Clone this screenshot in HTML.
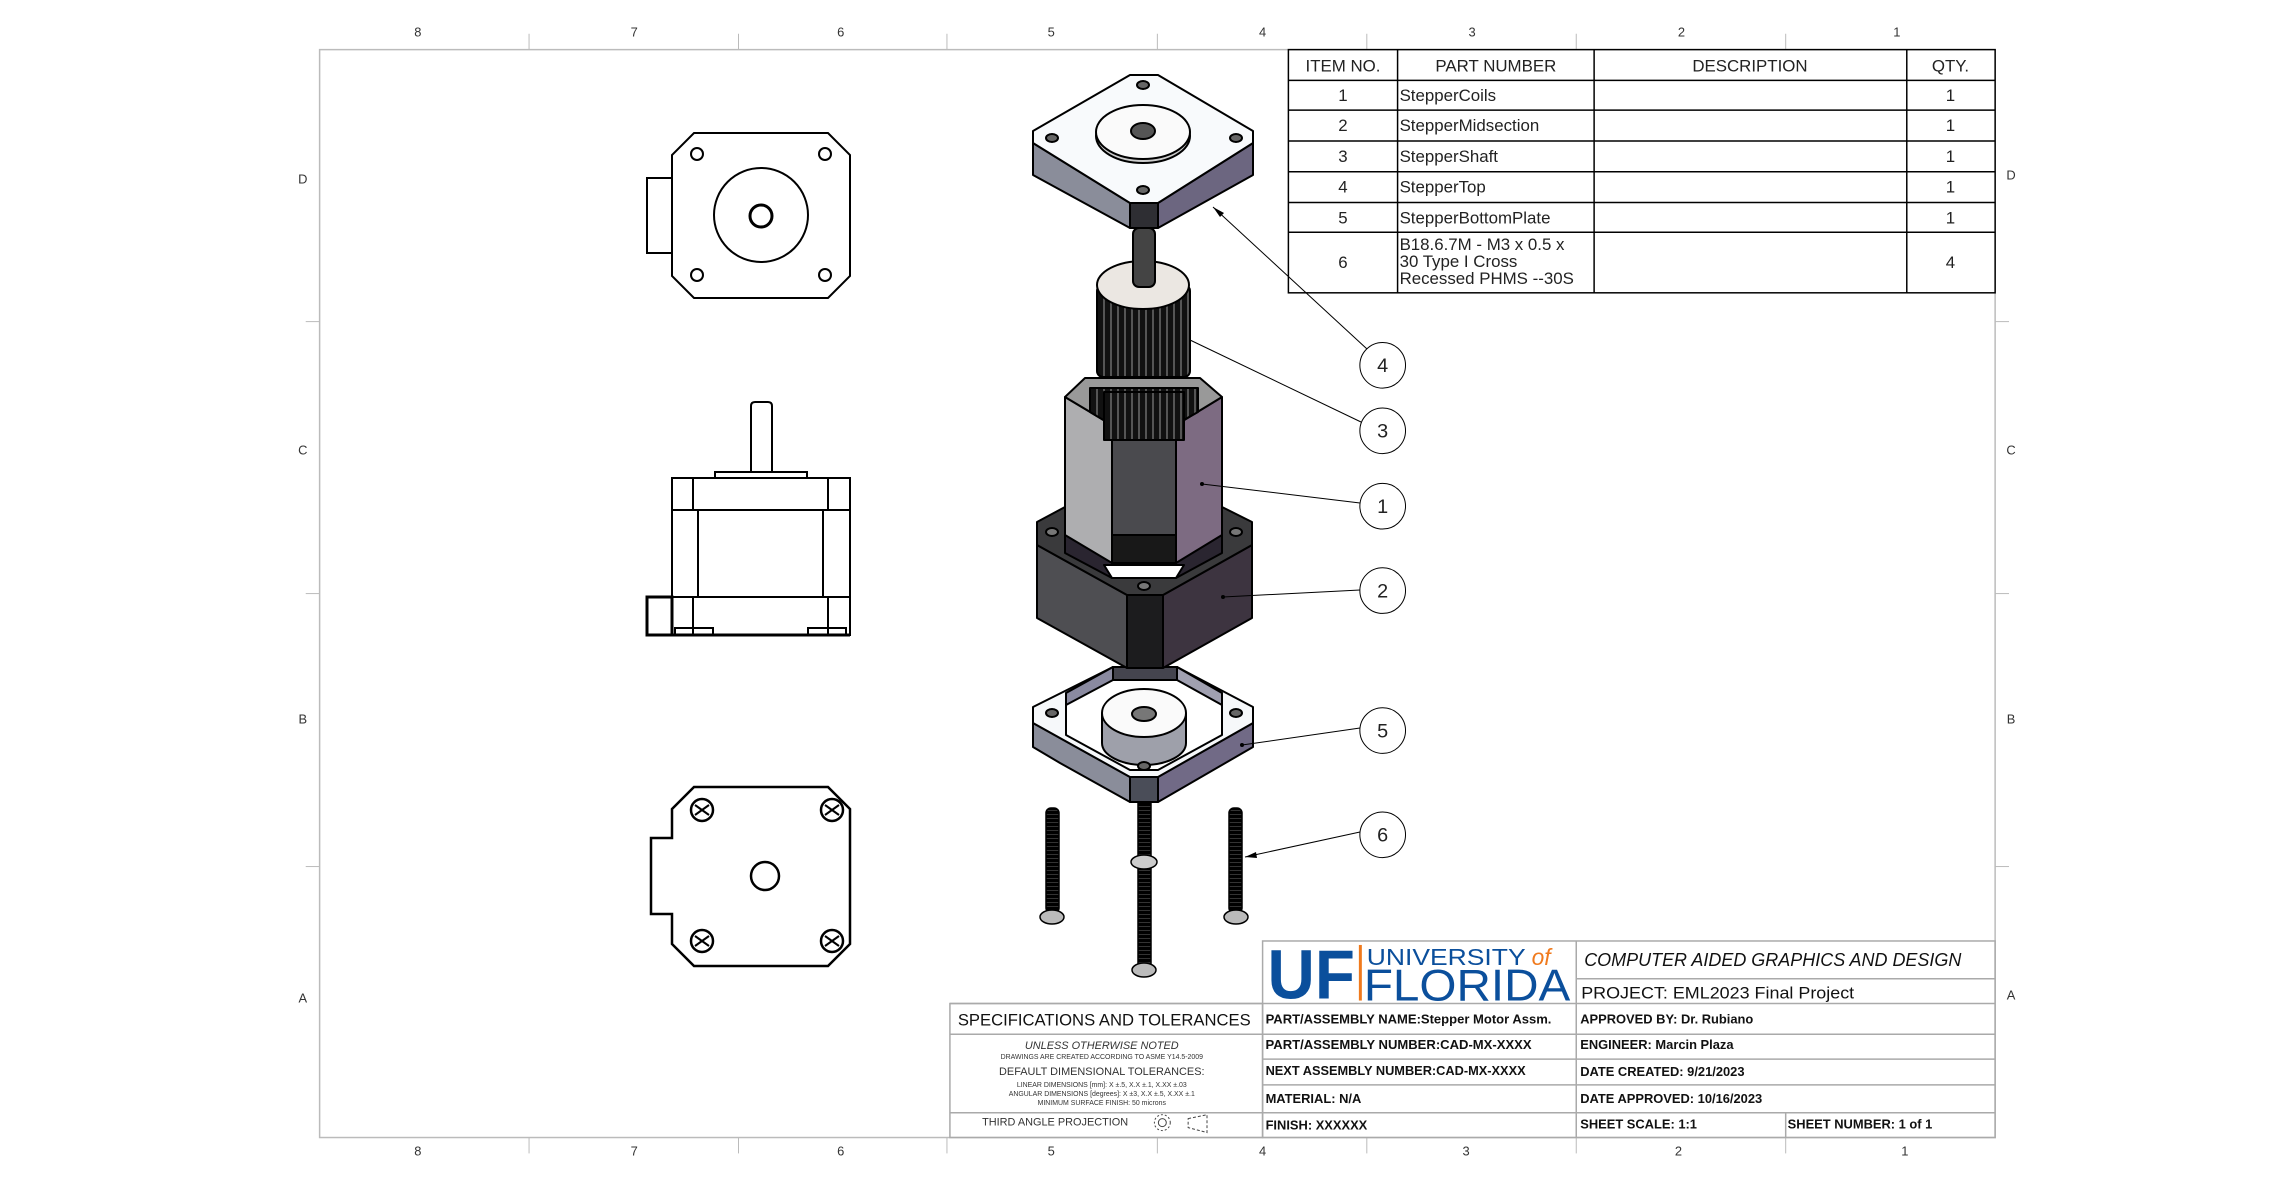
<!DOCTYPE html>
<html><head><meta charset="utf-8"><style>
html,body{margin:0;padding:0;background:#fff}
svg{display:block}
text{font-family:"Liberation Sans",sans-serif}
</style></head><body>
<svg width="2280" height="1193" viewBox="0 0 2280 1193" xmlns="http://www.w3.org/2000/svg">
<defs>
<pattern id="teeth" width="7" height="10" patternUnits="userSpaceOnUse">
<rect width="7" height="10" fill="#111"/><rect x="4" width="2" height="10" fill="#555"/>
</pattern>
<pattern id="thread" width="6" height="4" patternUnits="userSpaceOnUse">
<rect width="6" height="4" fill="#000"/><rect y="2" width="6" height="1" fill="#333"/>
</pattern>
</defs>
<rect width="2280" height="1193" fill="#fff"/>
<g transform="scale(0.9926)">
<!-- frame -->
<rect x="322" y="50" width="1688" height="1096" fill="none" stroke="#bbb" stroke-width="1.5"/>
<g stroke="#bbb" stroke-width="1">
<line x1="533" y1="34" x2="533" y2="50"/><line x1="744" y1="34" x2="744" y2="50"/><line x1="954" y1="34" x2="954" y2="50"/><line x1="1166" y1="34" x2="1166" y2="50"/><line x1="1377" y1="34" x2="1377" y2="50"/><line x1="1588" y1="34" x2="1588" y2="50"/><line x1="1799" y1="34" x2="1799" y2="50"/>
<line x1="533" y1="1146" x2="533" y2="1162"/><line x1="744" y1="1146" x2="744" y2="1162"/><line x1="954" y1="1146" x2="954" y2="1162"/><line x1="1166" y1="1146" x2="1166" y2="1162"/><line x1="1377" y1="1146" x2="1377" y2="1162"/><line x1="1588" y1="1146" x2="1588" y2="1162"/><line x1="1799" y1="1146" x2="1799" y2="1162"/>
<line x1="308" y1="324" x2="322" y2="324"/><line x1="308" y1="598" x2="322" y2="598"/><line x1="308" y1="873" x2="322" y2="873"/>
<line x1="2010" y1="324" x2="2024" y2="324"/><line x1="2010" y1="598" x2="2024" y2="598"/><line x1="2010" y1="873" x2="2024" y2="873"/>
</g>
<g font-size="13" fill="#333" text-anchor="middle">
<text x="421" y="37">8</text><text x="639" y="37">7</text><text x="847" y="37">6</text><text x="1059" y="37">5</text><text x="1272" y="37">4</text><text x="1483" y="37">3</text><text x="1694" y="37">2</text><text x="1911" y="37">1</text>
<text x="421" y="1164">8</text><text x="639" y="1164">7</text><text x="847" y="1164">6</text><text x="1059" y="1164">5</text><text x="1272" y="1164">4</text><text x="1477" y="1164">3</text><text x="1691" y="1164">2</text><text x="1919" y="1164">1</text>
<text x="305" y="185">D</text><text x="305" y="458">C</text><text x="305" y="729">B</text><text x="305" y="1010">A</text>
<text x="2026" y="181">D</text><text x="2026" y="458">C</text><text x="2026" y="729">B</text><text x="2026" y="1007">A</text>
</g>
<!-- BOM -->
<g stroke="#000" stroke-width="1.5" fill="none">
<rect x="1298" y="50" width="712" height="245" fill="#fff"/>
<line x1="1408" y1="50" x2="1408" y2="295"/><line x1="1606" y1="50" x2="1606" y2="295"/><line x1="1921" y1="50" x2="1921" y2="295"/>
<line x1="1298" y1="81" x2="2010" y2="81"/><line x1="1298" y1="111" x2="2010" y2="111"/><line x1="1298" y1="142" x2="2010" y2="142"/><line x1="1298" y1="173" x2="2010" y2="173"/><line x1="1298" y1="204" x2="2010" y2="204"/><line x1="1298" y1="234" x2="2010" y2="234"/>
</g>
<g font-size="17" fill="#222">
<g text-anchor="middle"><text x="1353" y="72">ITEM NO.</text><text x="1507" y="72">PART NUMBER</text><text x="1763" y="72">DESCRIPTION</text><text x="1965" y="72">QTY.</text>
<text x="1353" y="102">1</text><text x="1353" y="132">2</text><text x="1353" y="163">3</text><text x="1353" y="194">4</text><text x="1353" y="225">5</text><text x="1353" y="270">6</text>
<text x="1965" y="102">1</text><text x="1965" y="132">1</text><text x="1965" y="163">1</text><text x="1965" y="194">1</text><text x="1965" y="225">1</text><text x="1965" y="270">4</text></g>
<text x="1410" y="102">StepperCoils</text><text x="1410" y="132">StepperMidsection</text><text x="1410" y="163">StepperShaft</text><text x="1410" y="194">StepperTop</text><text x="1410" y="225">StepperBottomPlate</text>
<text x="1410" y="252">B18.6.7M - M3 x 0.5 x</text><text x="1410" y="269">30 Type I Cross</text><text x="1410" y="286">Recessed PHMS --30S</text>
</g>
<!-- title block -->
<g stroke="#aaa" stroke-width="1.5" fill="none">
<rect x="1272" y="948" width="738" height="198"/>
<rect x="957" y="1011" width="315" height="135"/>
<line x1="1588" y1="948" x2="1588" y2="1146"/>
<line x1="1588" y1="986" x2="2010" y2="986"/>
<line x1="957" y1="1011" x2="2010" y2="1011"/>
<line x1="957" y1="1042" x2="2010" y2="1042"/>
<line x1="1272" y1="1067" x2="2010" y2="1067"/>
<line x1="1272" y1="1093" x2="2010" y2="1093"/>
<line x1="957" y1="1121" x2="2010" y2="1121"/>
<line x1="1799" y1="1121" x2="1799" y2="1146"/>
</g>
<text x="1277" y="1006" font-family="Liberation Serif,serif" font-weight="bold" font-size="70" fill="#0b4f9c" textLength="88" lengthAdjust="spacingAndGlyphs">UF</text>
<rect x="1369" y="952" width="3" height="56" fill="#f07a1d"/>
<text x="1377" y="972" font-family="Liberation Serif,serif" font-size="23" fill="#0b4f9c" textLength="160" lengthAdjust="spacingAndGlyphs">UNIVERSITY</text>
<text x="1543" y="972" font-family="Liberation Serif,serif" font-style="italic" font-size="23" fill="#f07a1d">of</text>
<text x="1374" y="1008" font-family="Liberation Serif,serif" font-size="45" fill="#0b4f9c" textLength="208" lengthAdjust="spacingAndGlyphs">FLORIDA</text>
<g fill="#111">
<text x="1596" y="973" font-size="19" font-style="italic" textLength="380" lengthAdjust="spacingAndGlyphs">COMPUTER AIDED GRAPHICS AND DESIGN</text>
<text x="1593" y="1006" font-size="17" textLength="275" lengthAdjust="spacingAndGlyphs">PROJECT:   EML2023 Final Project</text>
<text x="965" y="1033" font-size="17" textLength="295" lengthAdjust="spacingAndGlyphs">SPECIFICATIONS AND TOLERANCES</text>
<g font-size="13" font-weight="bold">
<text x="1275" y="1031" textLength="288" lengthAdjust="spacingAndGlyphs">PART/ASSEMBLY NAME:Stepper Motor Assm.</text>
<text x="1275" y="1057" textLength="268" lengthAdjust="spacingAndGlyphs">PART/ASSEMBLY NUMBER:CAD-MX-XXXX</text>
<text x="1275" y="1083" textLength="262" lengthAdjust="spacingAndGlyphs">NEXT ASSEMBLY NUMBER:CAD-MX-XXXX</text>
<text x="1275" y="1111">MATERIAL: N/A</text>
<text x="1275" y="1138">FINISH: XXXXXX</text>
<text x="1592" y="1031">APPROVED BY:  Dr. Rubiano</text>
<text x="1592" y="1057">ENGINEER: Marcin Plaza</text>
<text x="1592" y="1084">DATE CREATED:  9/21/2023</text>
<text x="1592" y="1111">DATE APPROVED:  10/16/2023</text>
<text x="1592" y="1137">SHEET SCALE: 1:1</text>
<text x="1801" y="1137">SHEET NUMBER: 1 of 1</text>
</g>
<g text-anchor="middle" fill="#333">
<text x="1110" y="1057" font-size="11" font-style="italic">UNLESS OTHERWISE NOTED</text>
<text x="1110" y="1067" font-size="7">DRAWINGS ARE CREATED ACCORDING TO ASME Y14.5-2009</text>
<text x="1110" y="1083" font-size="11">DEFAULT DIMENSIONAL TOLERANCES:</text>
<text x="1110" y="1095" font-size="7">LINEAR DIMENSIONS [mm]: X ±.5, X.X ±.1, X.XX ±.03</text>
<text x="1110" y="1104" font-size="7">ANGULAR DIMENSIONS [degrees]: X ±3, X.X ±.5, X.XX ±.1</text>
<text x="1110" y="1113" font-size="7">MINIMUM SURFACE FINISH: 50 microns</text>
<text x="1063" y="1134" font-size="11">THIRD ANGLE PROJECTION</text>
</g>
</g>
<g fill="none" stroke="#444" stroke-width="1"><circle cx="1171" cy="1131" r="8" stroke-dasharray="2 2"/><circle cx="1171" cy="1131" r="4"/><path d="M1197 1127 L1216 1123 V1141 L1197 1136 Z" stroke-dasharray="3 2"/></g>
<!-- balloons -->
<g fill="#fff" stroke="#000" stroke-width="1"><circle cx="1393" cy="368" r="23"/><circle cx="1393" cy="434" r="23"/><circle cx="1393" cy="510" r="23"/><circle cx="1393" cy="595" r="23"/><circle cx="1393" cy="736" r="23"/><circle cx="1393" cy="841" r="23"/></g>
<g font-size="20" text-anchor="middle" fill="#222"><text x="1393" y="375">4</text><text x="1393" y="441">3</text><text x="1393" y="517">1</text><text x="1393" y="602">2</text><text x="1393" y="743">5</text><text x="1393" y="848">6</text></g>
</g>

<!-- front view -->
<g fill="none" stroke="#000" stroke-width="2">
<path d="M694 133 H828 L850 155 V276 L828 298 H694 L672 276 V155 Z"/>
<rect x="647" y="178" width="25" height="75"/>
<circle cx="761" cy="215" r="47"/>
<circle cx="761" cy="216" r="11" stroke-width="3"/>
<circle cx="697" cy="154" r="6"/><circle cx="825" cy="154" r="6"/><circle cx="697" cy="275" r="6"/><circle cx="825" cy="275" r="6"/>
</g>
<!-- side view -->
<g fill="none" stroke="#000" stroke-width="2">
<path d="M751 472 V406 Q751 402 755 402 H768 Q772 402 772 406 V472"/>
<rect x="715" y="472" width="92" height="6"/>
<rect x="672" y="478" width="178" height="157"/>
<line x1="672" y1="510" x2="850" y2="510"/><line x1="672" y1="597" x2="850" y2="597"/>
<line x1="693" y1="478" x2="693" y2="510"/><line x1="828" y1="478" x2="828" y2="510"/>
<line x1="698" y1="510" x2="698" y2="597"/><line x1="823" y1="510" x2="823" y2="597"/>
<line x1="693" y1="597" x2="693" y2="635"/><line x1="828" y1="597" x2="828" y2="635"/>
<rect x="647" y="597" width="25" height="38" stroke-width="3"/>
<rect x="675" y="628" width="38" height="7"/><rect x="808" y="628" width="38" height="7"/>
<line x1="647" y1="635" x2="850" y2="635" stroke-width="3"/>
</g>
<!-- bottom view -->
<g fill="none" stroke="#000" stroke-width="2.5">
<path d="M694 787 H828 L850 809 V944 L828 966 H694 L672 944 V914 H651 V838 H672 V809 Z"/>
<circle cx="765" cy="876" r="14"/>
<circle cx="702" cy="810" r="11"/><circle cx="832" cy="810" r="11"/><circle cx="702" cy="941" r="11"/><circle cx="832" cy="941" r="11"/>
</g>
<g stroke="#000" stroke-width="2"><path d="M695 805 L709 815 M709 805 L695 815 M825 805 L839 815 M839 805 L825 815 M695 936 L709 946 M709 936 L695 946 M825 936 L839 946 M839 936 L825 946"/></g>

<!-- exploded: bottom plate 5 -->
<g stroke="#000" stroke-width="2" stroke-linejoin="round">
<polygon points="1033,723 1130,777 1130,802 1060,763 1033,747" fill="#8a8d9a"/>
<polygon points="1130,777 1158,777 1158,802 1130,802" fill="#4a4d58"/>
<polygon points="1158,777 1253,723 1253,747 1158,802" fill="#716a86"/>
<polygon points="1033,707 1113,667 1177,667 1253,707 1253,723 1158,777 1130,777 1033,723" fill="#f6f8fa"/>
<polygon points="1066,693 1113,667 1177,667 1222,693 1222,735 1158,770 1130,770 1066,735" fill="#fff"/>
<polygon points="1066,693 1113,667 1113,680 1066,705" fill="#8a8aa0"/>
<polygon points="1113,667 1177,667 1177,680 1113,680" fill="#44444e"/>
<polygon points="1177,667 1222,693 1222,705 1177,680" fill="#a0a0b0"/>
<path d="M1102,713 V743 A42 22 0 0 0 1186,743 V713" fill="#9ea0aa"/>
<ellipse cx="1144" cy="713" rx="42" ry="24" fill="#fafafa"/>
<ellipse cx="1144" cy="714" rx="12" ry="7" fill="#777"/>
<ellipse cx="1052" cy="713" rx="6" ry="4" fill="#666"/><ellipse cx="1236" cy="713" rx="6" ry="4" fill="#666"/><ellipse cx="1144" cy="766" rx="6" ry="4" fill="#666"/>
</g>
<!-- screws -->
<g stroke="#000" stroke-width="1.5">
<rect x="1046" y="808" width="13" height="105" rx="5" fill="url(#thread)"/>
<ellipse cx="1052" cy="917" rx="12" ry="7" fill="#bbb"/>
<rect x="1229" y="808" width="13" height="105" rx="5" fill="url(#thread)"/>
<ellipse cx="1236" cy="917" rx="12" ry="7" fill="#bbb"/>
<rect x="1138" y="803" width="13" height="165" fill="url(#thread)"/>
<ellipse cx="1144" cy="862" rx="13" ry="7" fill="#ccc"/>
<ellipse cx="1144" cy="970" rx="12" ry="7" fill="#bbb"/>
</g>
<!-- midsection 2 -->
<g stroke="#000" stroke-width="2" stroke-linejoin="round">
<polygon points="1037,545 1127,595 1127,668 1037,618" fill="#4e4e52"/>
<polygon points="1127,595 1163,595 1163,668 1127,668" fill="#1c1c1e"/>
<polygon points="1163,595 1252,545 1252,618 1163,668" fill="#3d3440"/>
<polygon points="1037,522 1065,507 1222,507 1252,522 1252,545 1163,595 1127,595 1037,545" fill="#3a3a3c"/>
<polygon points="1065,510 1222,510 1222,553 1176,578 1112,578 1065,553" fill="#2a2530"/>
<polygon points="1104,565 1184,565 1176,578 1112,578" fill="#fff"/>
<ellipse cx="1052" cy="532" rx="6" ry="4" fill="#777"/><ellipse cx="1236" cy="532" rx="6" ry="4" fill="#777"/><ellipse cx="1144" cy="586" rx="6" ry="4" fill="#777"/>
</g>
<!-- coils 1 -->
<g stroke="#000" stroke-width="2" stroke-linejoin="round">
<polygon points="1065,397 1112,425 1112,563 1065,535" fill="#aeaeb0"/>
<polygon points="1112,425 1176,425 1176,563 1112,563" fill="#4a4a4e"/>
<polygon points="1112,535 1176,535 1176,563 1112,563" fill="#181818"/>
<polygon points="1176,425 1222,397 1222,535 1176,563" fill="#7d6b82"/>
<polygon points="1065,397 1085,378 1200,378 1222,397 1176,425 1112,425" fill="#999"/>
<polygon points="1090,388 1198,388 1198,412 1166,430 1120,430 1090,412" fill="url(#teeth)"/>
<rect x="1104" y="392" width="80" height="48" fill="url(#teeth)"/>
</g>
<!-- shaft and gear 3 -->
<g stroke="#000" stroke-width="2">
<rect x="1097" y="285" width="93" height="92" rx="6" fill="url(#teeth)"/>
<ellipse cx="1143" cy="285" rx="46" ry="24" fill="#ebe7e2"/>
<rect x="1133" y="228" width="22" height="59" rx="6" fill="#444"/>
</g>
<!-- top plate 4 -->
<g stroke="#000" stroke-width="2" stroke-linejoin="round">
<polygon points="1033,143 1130,203 1130,228 1033,175" fill="#8a8d9a"/>
<polygon points="1130,203 1158,203 1158,228 1130,228" fill="#2e2e33"/>
<polygon points="1158,203 1253,143 1253,175 1158,228" fill="#6c6680"/>
<polygon points="1033,131 1130,75 1158,75 1253,131 1253,143 1158,203 1130,203 1033,143" fill="#f8fafc"/>
<ellipse cx="1143" cy="136" rx="47" ry="27" fill="#ccc"/>
<ellipse cx="1143" cy="132" rx="47" ry="27" fill="#fafafa"/>
<ellipse cx="1143" cy="131" rx="12" ry="8" fill="#555"/>
<ellipse cx="1143" cy="85" rx="6" ry="4" fill="#666"/><ellipse cx="1052" cy="138" rx="6" ry="4" fill="#666"/><ellipse cx="1236" cy="138" rx="6" ry="4" fill="#666"/><ellipse cx="1143" cy="190" rx="6" ry="4" fill="#666"/>
</g>
<!-- leaders -->
<g stroke="#000" stroke-width="1" fill="none">
<line x1="1367" y1="349" x2="1213" y2="207"/>
<line x1="1361" y1="422" x2="1190" y2="340"/>
<line x1="1360" y1="503" x2="1202" y2="484"/>
<line x1="1360" y1="590" x2="1223" y2="597"/>
<line x1="1360" y1="728" x2="1242" y2="745"/>
<line x1="1360" y1="832" x2="1245" y2="857"/>
</g>
<g fill="#000"><circle cx="1202" cy="484" r="2"/><circle cx="1223" cy="597" r="2"/><circle cx="1242" cy="745" r="2"/>
<polygon points="1213,207 1224,213 1220,217"/><polygon points="1245,857 1256,852 1257,858"/></g>
</svg>
</body></html>
